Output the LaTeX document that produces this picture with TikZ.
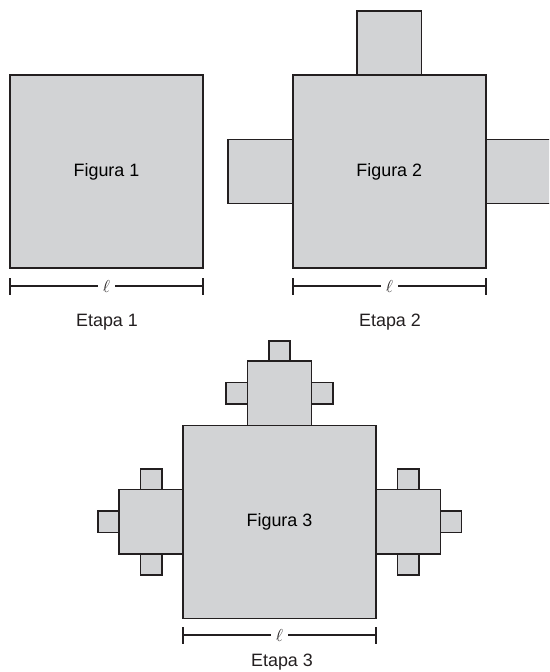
\documentclass[tikz,border=0pt]{standalone}
\usepackage{fontspec}
\setmainfont{Liberation Sans}
\definecolor{sqfill}{RGB}{210,211,213}
\definecolor{sqline}{RGB}{35,31,32}
\begin{document}
\begin{tikzpicture}[x=1pt,y=-1pt,
  sq/.style={draw=sqline,fill=sqfill,line width=1.5pt,inner sep=0pt,outer sep=0pt,font=\fontsize{17.9}{20}\selectfont},
  big/.style={sq,minimum size=193pt},
  mid/.style={sq,minimum size=64.3pt},
  sml/.style={sq,minimum size=21.4pt},
  dim/.style={draw=sqline,line width=1.2pt},
  lbl/.style={font=\fontsize{17.9}{20}\selectfont,text=sqline},
  ell/.style={fill=white,inner sep=5pt,font=\fontsize{17.7}{20}\selectfont,text=sqline}]
\clip (0,0) rectangle (549,672);
\useasboundingbox (0,0) rectangle (549,672);
% Figura 1
\node[big] (m1) at (106.5,171.5) {Figura 1};
% Figura 2
\node[mid] (t2) at (389.3,43.2) {};
\node[mid] (l2) at (260.3,171.5) {};
\node[mid, minimum width=70pt] (r2) at (521.5,171.5) {};
\node[big] (m2) at (389.3,171.5) {Figura 2};
% Figura 3
\node[sml] (t3t) at (279.5,351.5) {};
\node[sml] (t3l) at (236.7,393.3) {};
\node[sml] (t3r) at (322.3,393.3) {};
\node[mid] (t3) at (279.5,393.3) {};
\node[sml] (l3t) at (151.3,479.5) {};
\node[sml] (l3b) at (151.3,564.3) {};
\node[sml] (l3l) at (108.5,521.8) {};
\node[mid] (l3) at (151.3,521.8) {};
\node[sml] (r3t) at (408.2,479.5) {};
\node[sml] (r3b) at (408.2,564.3) {};
\node[sml] (r3r) at (451,521.8) {};
\node[mid] (r3) at (408.2,521.8) {};
\node[big] (m3) at (279.5,521.8) {Figura 3};
% dimension lines
\coordinate (a1) at (10,286); \coordinate (b1) at (203,286);
\coordinate (a2) at (293,286); \coordinate (b2) at (486,286);
\coordinate (a3) at (183,635); \coordinate (b3) at (376,635);
\foreach \i in {1,2,3}{
  \draw[dim] (a\i) -- node[ell] (e\i) {$\ell$} (b\i);
  \draw[dim] ([yshift=-8.5pt]a\i) -- ([yshift=8.5pt]a\i);
  \draw[dim] ([yshift=-8.5pt]b\i) -- ([yshift=8.5pt]b\i);
}
\node[lbl] (s1) at (107,322) {Etapa 1};
\node[lbl] (s2) at (390,322) {Etapa 2};
\node[lbl] (s3) at (282,662) {Etapa 3};
\end{tikzpicture}
\end{document}
